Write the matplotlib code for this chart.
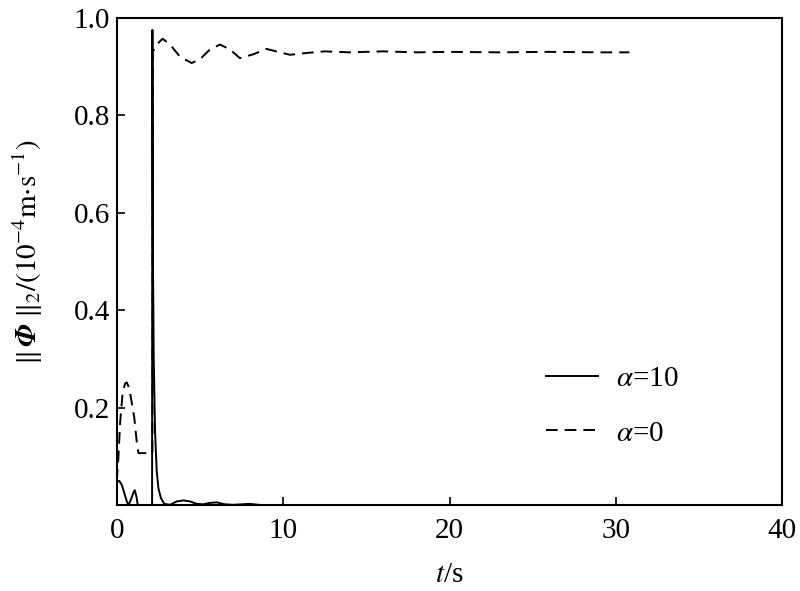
import numpy as np
import matplotlib
matplotlib.use("Agg")
import matplotlib.pyplot as plt

plt.rcParams['font.family'] = ['Liberation Serif', 'DejaVu Serif']
plt.rcParams['mathtext.fontset'] = 'stix'

# alpha = 10 (solid)
t_a10 = [0, 0.15, 0.3, 0.45, 0.6, 0.7, 0.85, 1.0, 1.08, 1.18, 1.26, 1.6, 2.12,
         2.14, 2.17, 2.22, 2.3, 2.4, 2.5, 2.65, 2.85, 3.2, 3.6, 4.0, 4.4, 4.8,
         5.2, 5.6, 6.0, 6.5, 7.0, 7.5, 8.0, 8.5, 9.0, 10, 31]
y_a10 = [0.048, 0.05, 0.042, 0.025, 0.008, 0.0, 0.012, 0.026, 0.031, 0.018, 0.0, 0.0, 0.0,
         0.975, 0.51, 0.3, 0.15, 0.07, 0.035, 0.015, 0.003, 0.001, 0.008, 0.01, 0.008, 0.003,
         0.002, 0.005, 0.006, 0.002, 0.001, 0.002, 0.003, 0.001, 0.0, 0.0, 0.0]

# alpha = 0 (dashed)
t_a0 = [0, 0.1, 0.2, 0.35, 0.5, 0.6, 0.75, 0.9, 1.05, 1.2, 1.3, 2.14, 2.16,
        2.4, 2.75, 3.2, 3.8, 4.5, 5.0, 5.6, 6.2, 6.8, 7.4, 8.2, 9.0, 9.7,
        10.4, 11.5, 12.5, 14, 16, 18, 20, 23, 26, 29, 30.8]
y_a0 = [0.05, 0.1, 0.17, 0.23, 0.25, 0.252, 0.24, 0.21, 0.18, 0.13, 0.107, 0.107, 0.93,
        0.945, 0.957, 0.945, 0.92, 0.907, 0.915, 0.935, 0.945, 0.935, 0.917, 0.925, 0.936, 0.93,
        0.924, 0.928, 0.931, 0.929, 0.931, 0.929, 0.93, 0.929, 0.93, 0.929, 0.929]

fig = plt.figure(figsize=(8, 5.91), dpi=100)
ax = fig.add_axes([0.146, 0.145, 0.832, 0.825])

ax.plot(t_a10, y_a10, color='black', lw=1.4, label=r'$\alpha$=10')
ax.plot(t_a0, y_a0, color='black', lw=1.4, dashes=(6, 3.6), label=r'$\alpha$=0')

ax.set_xlim(0, 40)
ax.set_ylim(0, 1.0)
ax.set_xticks([0, 10, 20, 30, 40])
ax.set_yticks([0.2, 0.4, 0.6, 0.8, 1.0])
ax.set_yticklabels(['0.2', '0.4', '0.6', '0.8', '1.0'])
ax.tick_params(direction='in', length=6, width=1.2, labelsize=21)
ax.tick_params(axis='y', pad=5)
ax.tick_params(axis='x', pad=9)
for s in ax.spines.values():
    s.set_linewidth(1.5)

ax.set_xlabel(r'$t$/s', fontsize=21, labelpad=13)
ax.set_ylabel(r'$\|\,\mathbfit{\Phi}\;\|_2/(10^{-4}\mathrm{m{\cdot}s}^{-1})$', fontsize=21)
ax.yaxis.set_label_coords(-0.108, 0.52)

ax.legend(loc='center left', bbox_to_anchor=(0.605, 0.203), frameon=False, fontsize=21,
          handlelength=1.8, handletextpad=0.6, labelspacing=0.95)

fig.savefig('out.png', dpi=100)
